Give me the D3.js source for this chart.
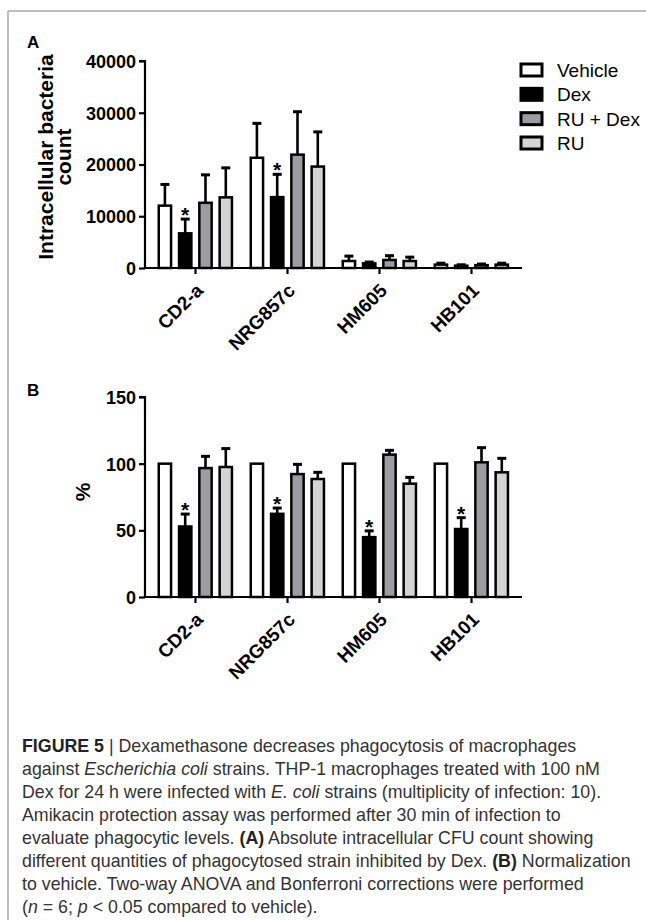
<!DOCTYPE html>
<html>
<head>
<meta charset="utf-8">
<script src="https://cdn.jsdelivr.net/npm/d3@7"></script>
<style>
  html, body { margin: 0; padding: 0; background: #fff; }
  svg { display: block; }
  .ax text { font-family: "Liberation Sans", Arial, sans-serif; font-weight: bold; font-size: 18px; fill: #000; }
  .ax.xcat text { font-size: 19px; }
</style>
</head>
<body>
<svg id="fig" width="646" height="920"></svg>
<script>
// ---------------- data ----------------
const categories = ["CD2-a", "NRG857c", "HM605", "HB101"];
const seriesNames = ["Vehicle", "Dex", "RU + Dex", "RU"];
const seriesColors = ["#ffffff", "#000000", "#9d9da1", "#d4d4d4"];

// Panel A: absolute intracellular bacteria count (mean, upper error)
const countVehicle = [12050, 21300, 1350, 650];
const countVehicleErr = [4100, 6650, 950, 280];
const countDex = [6700, 13700, 900, 450];
const countDexErr = [2750, 4400, 250, 170];
const countRuDex = [12600, 21900, 1550, 550];
const countRuDexErr = [5400, 8300, 830, 220];
const countRu = [13650, 19600, 1350, 650];
const countRuErr = [5700, 6700, 750, 280];
const countSig = [[false,false,false,false],[true,true,false,false],[false,false,false,false],[false,false,false,false]];
const countTicks = [0, 10000, 20000, 30000, 40000];

// Panel B: normalized to vehicle (%)
const pctVehicle = [100, 100, 100, 100];
const pctVehicleErr = [0, 0, 0, 0];
const pctDex = [52.9, 62.4, 44.9, 51];
const pctDexErr = [9.3, 4.3, 4.7, 8.5];
const pctRuDex = [96.7, 92.2, 106.8, 101];
const pctRuDexErr = [8.8, 7.3, 3.2, 11];
const pctRu = [97.5, 88.5, 85, 93.5];
const pctRuErr = [13.8, 5, 4.7, 10.5];
const pctSig = [[false,false,false,false],[true,true,true,true],[false,false,false,false],[false,false,false,false]];
const pctTicks = [0, 50, 100, 150];

// ---------------- drawing ----------------
const svg = d3.select("#fig");
const FONT = '"Liberation Sans", Arial, sans-serif';

// figure frame
svg.append("line").attr("x1", 8).attr("y1", 11).attr("x2", 646).attr("y2", 11)
  .attr("stroke", "#a8a8a8").attr("stroke-width", 1.5);
svg.append("line").attr("x1", 8).attr("y1", 11).attr("x2", 8).attr("y2", 920)
  .attr("stroke", "#a8a8a8").attr("stroke-width", 1.5);

function panel(opts) {
  const { top, bottom, yMax, ticks, means, errs, sig, letter, letterY, titleLines, titleBaselines, titleCenter } = opts;
  const axisX = 145;
  const x0 = d3.scaleBand().domain(categories).range([149.5, 517.5]).padding(0);
  const x1 = d3.scaleBand().domain(seriesNames).range([8, 83.7]).paddingInner(0.27).paddingOuter(0);
  const y = d3.scaleLinear().domain([0, yMax]).range([bottom, top]);
  const g = svg.append("g");

  seriesNames.forEach((s, si) => {
    categories.forEach((c, ci) => {
      const v = means[si][ci];
      const e = errs[si][ci];
      const bx = x0(c) + x1(s);
      const bw = x1.bandwidth();
      const cx = bx + bw / 2;
      if (e > 0) {
        g.append("line").attr("x1", cx).attr("x2", cx).attr("y1", y(v)).attr("y2", y(v + e))
          .attr("stroke", "#000").attr("stroke-width", 2.6);
        g.append("line").attr("x1", cx - 4.5).attr("x2", cx + 4.5).attr("y1", y(v + e)).attr("y2", y(v + e))
          .attr("stroke", "#000").attr("stroke-width", 3);
      }
      g.append("rect").attr("x", bx + 1.25).attr("y", y(v))
        .attr("width", bw - 2.5).attr("height", Math.max(0, y(0) - y(v)))
        .attr("fill", seriesColors[si]).attr("stroke", "#000").attr("stroke-width", 2.5);
      if (sig[si][ci]) {
        g.append("text").attr("x", cx).attr("y", y(v + e) + 3)
          .attr("text-anchor", "middle").attr("font-family", FONT).attr("font-weight", "bold")
          .attr("font-size", 21).text("*");
      }
    });
  });

  const ya = g.append("g").attr("class", "ax").attr("transform", `translate(${axisX},0)`)
    .call(d3.axisLeft(y).tickValues(ticks).tickSize(6).tickPadding(3).tickFormat(d3.format("d")));
  ya.select(".domain").attr("stroke-width", 2.2).attr("d", `M-6,${y(yMax)}H0V${bottom}`);
  ya.selectAll(".tick line").attr("stroke-width", 2.2);
  ya.selectAll(".tick text").attr("dy", "0.36em");

  const xa = g.append("g").attr("class", "ax xcat").attr("transform", `translate(0,${bottom})`)
    .call(d3.axisBottom(x0).tickSize(6).tickSizeOuter(0));
  xa.select(".domain").attr("stroke-width", 2.2).attr("d", `M${axisX},0H522`);
  xa.selectAll(".tick line").attr("stroke-width", 2.2);
  xa.selectAll(".tick text")
    .attr("text-anchor", "end")
    .attr("y", 0).attr("dy", "0.35em")
    .attr("transform", "translate(4,19) rotate(-45)");

  svg.append("text").attr("x", 27).attr("y", letterY).attr("font-family", FONT)
    .attr("font-weight", "bold").attr("font-size", 17).text(letter);

  const t = svg.append("text").attr("font-family", FONT).attr("font-weight", "bold")
    .attr("font-size", 21).attr("text-anchor", "middle")
    .attr("transform", `translate(0,${titleCenter}) rotate(-90)`);
  titleLines.forEach((ln, i) => {
    t.append("tspan").attr("x", 0).attr("y", titleBaselines[i]).text(ln);
  });
}

panel({
  top: 61, bottom: 268, yMax: 40000, ticks: countTicks,
  means: [countVehicle, countDex, countRuDex, countRu],
  errs: [countVehicleErr, countDexErr, countRuDexErr, countRuErr],
  sig: countSig, letter: "A", letterY: 48,
  titleLines: ["Intracellular bacteria", "count"], titleBaselines: [53, 71], titleCenter: 157
});

panel({
  top: 397, bottom: 597, yMax: 150, ticks: pctTicks,
  means: [pctVehicle, pctDex, pctRuDex, pctRu],
  errs: [pctVehicleErr, pctDexErr, pctRuDexErr, pctRuErr],
  sig: pctSig, letter: "B", letterY: 396,
  titleLines: ["%"], titleBaselines: [90], titleCenter: 492
});

// legend
const lg = svg.append("g").attr("transform", "translate(521,0)");
const legendY = d3.scalePoint().domain(seriesNames).range([70, 143]);
seriesNames.forEach((s, i) => {
  lg.append("rect").attr("x", 0).attr("y", legendY(s) - 6).attr("width", 21).attr("height", 12)
    .attr("fill", seriesColors[i]).attr("stroke", "#000").attr("stroke-width", 3);
  lg.append("text").attr("x", 36).attr("y", legendY(s) + 7).attr("font-family", FONT)
    .attr("font-size", 19).text(s);
});

// caption
const captionLines = [
  [["b", "FIGURE 5"], ["n", " | Dexamethasone decreases phagocytosis of macrophages"]],
  [["n", "against "], ["i", "Escherichia coli"], ["n", " strains. THP-1 macrophages treated with 100 nM"]],
  [["n", "Dex for 24 h were infected with "], ["i", "E. coli"], ["n", " strains (multiplicity of infection: 10)."]],
  [["n", "Amikacin protection assay was performed after 30 min of infection to"]],
  [["n", "evaluate phagocytic levels. "], ["b", "(A)"], ["n", " Absolute intracellular CFU count showing"]],
  [["n", "different quantities of phagocytosed strain inhibited by Dex. "], ["b", "(B)"], ["n", " Normalization"]],
  [["n", "to vehicle. Two-way ANOVA and Bonferroni corrections were performed"]],
  [["n", "("], ["i", "n"], ["n", " = 6; "], ["i", "p"], ["n", " < 0.05 compared to vehicle)."]]
];
const cap = svg.append("g");
captionLines.forEach((parts, i) => {
  const tx = cap.append("text").attr("x", 22).attr("y", 752 + i * 23)
    .attr("font-family", FONT).attr("font-size", 17.8).attr("fill", "#333");
  parts.forEach(([st, str]) => {
    const sp = tx.append("tspan").text(str);
    if (st === "b") sp.attr("font-weight", "bold").attr("fill", "#222");
    if (st === "i") sp.attr("font-style", "italic");
  });
});
</script>
</body>
</html>
